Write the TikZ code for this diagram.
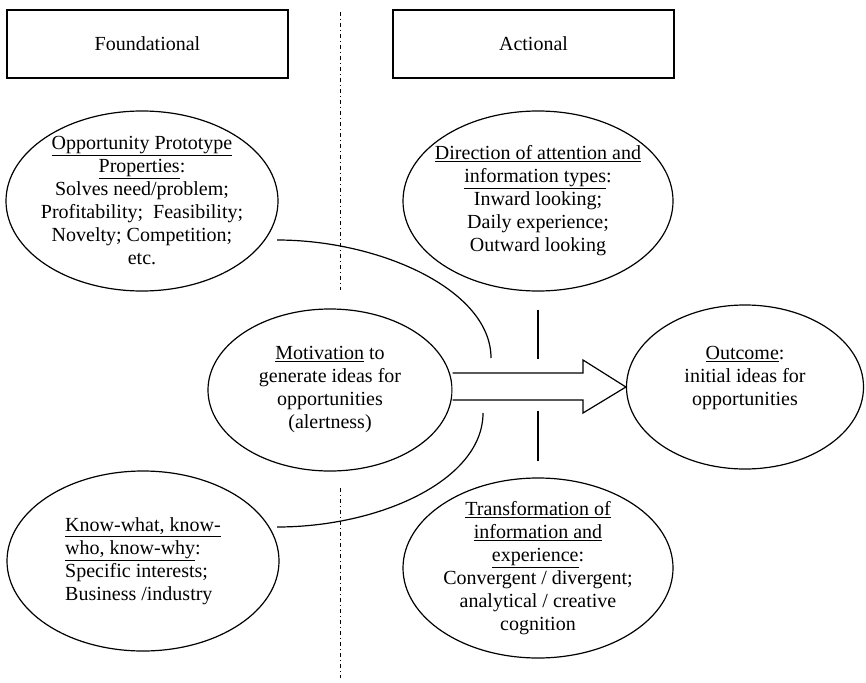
\documentclass[tikz,border=0pt]{standalone}
\usepackage{fontspec}
\setmainfont{Liberation Serif}
\usetikzlibrary{positioning,shapes.geometric}

\tikzset{
    headbox/.style={draw, line width=1.3pt, minimum width=281pt, minimum height=68pt},
    idea/.style={draw, ellipse, line width=1.2pt, align=center, inner sep=-30pt},
    link/.style={line width=1.2pt},
    divider/.style={line width=1pt, dash pattern=on 4pt off 3pt on 1pt off 3pt}
}

\begin{document}
\begin{tikzpicture}[x=1pt, y=-1pt, font=\fontsize{20}{23}\selectfont]
    \useasboundingbox (0,0) rectangle (866,682);

    % Column headings
    \node[headbox] (found) at (147.5,44) {Foundational};
    \node[headbox] (act) at (533.5,44) {Actional};

    % Dividing line
    \draw[divider] (340,12) -- (340,290);
    \draw[divider] (340,488) -- (340,678);

    % Ellipses
    \node[idea, minimum width=272pt, minimum height=180pt] (proto) at (142,201)
        {\underline{Opportunity Prototype}\\ \underline{Properties}:\\ Solves need/problem;\\ Profitability; \ Feasibility;\\ Novelty; Competition;\\ etc.};
    \node[idea, minimum width=270pt, minimum height=180pt] (dir) at (538,201)
        {\underline{Direction of attention and}\\ \underline{information types}:\\ Inward looking;\\ Daily experience;\\ Outward looking};
    \node[idea, minimum width=244pt, minimum height=162pt] (mot) at (330,390)
        {\underline{Motivation} to\\ generate ideas for\\ opportunities\\ (alertness)};
    \node[idea, minimum width=237pt, minimum height=164pt] (out) at (745,387)
        {\underline{Outcome}:\\ initial ideas for\\ opportunities\\ \mbox{}};
    \node[idea, align=left, minimum width=272pt, minimum height=180pt] (know) at (143,561)
        {\underline{Know-what, know-}\\ \underline{who, know-why}:\\ Specific interests;\\ Business /industry};
    \node[idea, minimum width=270pt, minimum height=180pt] (trans) at (538,568)
        {\underline{Transformation of}\\ \underline{information and}\\ \underline{experience}:\\ Convergent / divergent;\\ analytical / creative\\ cognition};

    % Block arrow
    \draw[link, fill=white] (mot.east |- 0,373) -- (583,373) -- (583,360) -- (out.west)
        -- (583,413) -- (583,400) -- (mot.east |- 0,400);

    % Curved links
    \coordinate (p1) at (277,240);
    \coordinate (p2) at (491,358);
    \coordinate (k1) at (277,527);
    \coordinate (k2) at (483,413);
    \draw[link] (p1) .. controls (380,240) and (491,290) .. (p2);
    \draw[link] (k1) .. controls (380,527) and (483,480) .. (k2);

    % Short links
    \draw[link] ([yshift=-18pt]dir.south) -- ++(0,49);
    \draw[link] ([yshift=16pt]trans.north) -- ++(0,-50);
\end{tikzpicture}
\end{document}
